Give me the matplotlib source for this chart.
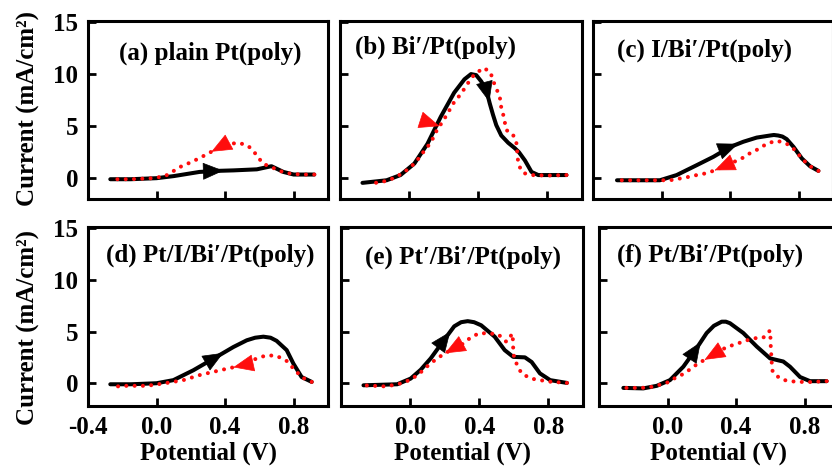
import matplotlib
matplotlib.use("Agg")
import matplotlib.pyplot as plt
from matplotlib.patches import FancyArrowPatch
import numpy as np

plt.rcParams['font.family'] = ['Liberation Serif', 'DejaVu Serif']
plt.rcParams['font.weight'] = 'bold'
plt.rcParams['axes.labelweight'] = 'bold'
plt.rcParams['font.size'] = 18

# ---- data: forward (black) and reverse (red) scans, potential in V, current in mA/cm2
a_fwd_x = [-0.27, -0.15, 0.0, 0.10, 0.25, 0.35, 0.45, 0.585, 0.67, 0.74, 0.80, 0.92]
a_fwd_y = [-0.1, -0.1, 0.0, 0.2, 0.6, 0.7, 0.75, 0.85, 1.15, 0.6, 0.35, 0.35]
a_rev_x = [0.92, 0.84, 0.75, 0.62, 0.58, 0.535, 0.48, 0.43, 0.36, 0.27, 0.21, 0.14, 0.09, 0.05, -0.02, -0.15, -0.27]
a_rev_y = [0.35, 0.35, 0.5, 1.4, 2.3, 3.1, 3.4, 3.3, 2.9, 2.1, 1.6, 1.1, 0.6, 0.2, 0.0, -0.1, -0.1]

b_fwd_x = [-0.27, -0.13, -0.05, 0.03, 0.106, 0.183, 0.26, 0.32, 0.358, 0.388, 0.417, 0.446, 0.466, 0.485, 0.504, 0.533, 0.573, 0.61, 0.635, 0.67, 0.708, 0.747, 0.91]
b_fwd_y = [-0.45, -0.2, 0.3, 1.4, 3.3, 5.9, 8.2, 9.5, 10.0, 9.9, 9.3, 8.5, 7.2, 6.1, 5.1, 4.1, 3.4, 2.9, 2.5, 1.7, 0.6, 0.3, 0.3]
b_rev_x = [0.91, 0.80, 0.708, 0.66, 0.635, 0.625, 0.625, 0.615, 0.59, 0.563, 0.553, 0.543, 0.53, 0.524, 0.504, 0.485, 0.47, 0.43, 0.374, 0.339, 0.30, 0.26, 0.232, 0.20, 0.16, 0.144, 0.115, 0.077, 0.037, -0.011, -0.066, -0.118, -0.17, -0.225]
b_rev_y = [0.3, 0.25, 0.3, 0.5, 1.2, 2.2, 3.0, 3.8, 4.4, 4.6, 5.4, 6.2, 7.0, 7.9, 8.6, 9.4, 10.2, 10.6, 9.9, 9.1, 8.1, 7.3, 6.5, 5.6, 4.6, 4.0, 3.2, 2.4, 1.5, 0.8, 0.2, -0.2, -0.4, -0.5]

c_fwd_x = [-0.26, -0.1, -0.01, 0.088, 0.205, 0.302, 0.40, 0.477, 0.555, 0.633, 0.655, 0.68, 0.705, 0.73, 0.77, 0.818, 0.866, 0.915]
c_fwd_y = [-0.2, -0.2, -0.2, 0.3, 1.25, 2.05, 3.0, 3.5, 3.9, 4.1, 4.15, 4.1, 4.0, 3.75, 3.0, 1.9, 1.15, 0.7]
c_rev_x = [0.915, 0.866, 0.82, 0.788, 0.76, 0.72, 0.668, 0.613, 0.565, 0.516, 0.468, 0.38, 0.302, 0.253, 0.205, 0.156, 0.108, 0.05, -0.1, -0.26]
c_rev_y = [0.7, 1.15, 1.85, 2.5, 3.0, 3.4, 3.6, 3.3, 2.8, 2.4, 1.9, 1.25, 0.7, 0.45, 0.3, 0.12, -0.03, -0.2, -0.2, -0.2]

d_fwd_x = [-0.27, -0.15, 0.0, 0.098, 0.214, 0.35, 0.448, 0.526, 0.575, 0.623, 0.665, 0.70, 0.759, 0.798, 0.846, 0.905]
d_fwd_y = [-0.1, -0.1, 0.0, 0.3, 1.25, 2.55, 3.5, 4.15, 4.4, 4.5, 4.4, 4.1, 3.2, 1.9, 0.6, 0.13]
d_rev_x = [0.905, 0.85, 0.808, 0.759, 0.70, 0.642, 0.584, 0.506, 0.409, 0.331, 0.254, 0.156, 0.05, -0.057, -0.174, -0.272]
d_rev_y = [0.13, 0.55, 1.25, 2.15, 2.65, 2.7, 2.4, 1.75, 1.4, 1.1, 0.8, 0.3, 0.0, -0.25, -0.25, -0.35]

e_fwd_x = [-0.27, -0.075, 0.003, 0.061, 0.119, 0.197, 0.255, 0.295, 0.333, 0.37, 0.411, 0.489, 0.547, 0.596, 0.664, 0.703, 0.751, 0.81, 0.907]
e_fwd_y = [-0.2, -0.1, 0.45, 1.3, 2.4, 4.2, 5.5, 5.9, 6.0, 5.9, 5.6, 4.5, 3.2, 2.55, 2.5, 2.05, 0.95, 0.3, 0.03]
e_rev_x = [0.907, 0.81, 0.751, 0.699, 0.644, 0.605, 0.596, 0.596, 0.592, 0.557, 0.508, 0.46, 0.40, 0.349, 0.304, 0.246, 0.197, 0.148, 0.10, 0.051, 0.003, -0.05, -0.104, -0.153, -0.27]
e_rev_y = [0.03, 0.15, 0.3, 0.45, 0.95, 2.25, 3.0, 3.8, 4.8, 4.0, 4.75, 4.8, 4.85, 4.4, 3.8, 3.3, 2.85, 2.3, 1.65, 0.9, 0.35, 0.0, -0.2, -0.3, -0.2]

f_fwd_x = [-0.258, -0.142, -0.063, 0.014, 0.092, 0.17, 0.228, 0.27, 0.316, 0.34, 0.364, 0.442, 0.52, 0.598, 0.675, 0.714, 0.773, 0.831, 0.928]
f_fwd_y = [-0.45, -0.5, -0.25, 0.3, 1.6, 3.4, 4.85, 5.55, 5.95, 5.95, 5.8, 4.85, 3.55, 2.4, 2.1, 1.6, 0.6, 0.2, 0.2]
f_rev_x = [0.928, 0.812, 0.704, 0.656, 0.613, 0.608, 0.605, 0.602, 0.60, 0.598, 0.558, 0.51, 0.452, 0.403, 0.345, 0.277, 0.209, 0.15, 0.10, 0.053, 0.004, -0.045, -0.093, -0.15, -0.2, -0.258]
f_rev_y = [0.2, 0.1, 0.2, 0.45, 1.1, 1.9, 2.7, 3.55, 4.45, 5.1, 4.4, 4.35, 4.1, 3.8, 3.5, 2.85, 2.2, 1.6, 0.95, 0.6, 0.1, -0.15, -0.35, -0.45, -0.45, -0.45]

titles = ["(a) plain Pt(poly)", "(b) Bi\u2032/Pt(poly)", "(c) I/Bi\u2032/Pt(poly)",
          "(d) Pt/I/Bi\u2032/Pt(poly)", "(e) Pt\u2032/Bi\u2032/Pt(poly)", "(f) Pt/Bi\u2032/Pt(poly)"]
x_ticks = [-0.4, 0.0, 0.4, 0.8]
x_tick_labels = ["-0.4", "0.0", "0.4", "0.8"]
y_ticks = [0, 5, 10, 15]
y_tick_labels = ["0", "5", "10", "15"]
x_label = "Potential (V)"
y_label = "Current (mA/cm\u00b2)"

panels = [
    (a_fwd_x, a_fwd_y, a_rev_x, a_rev_y),
    (b_fwd_x, b_fwd_y, b_rev_x, b_rev_y),
    (c_fwd_x, c_fwd_y, c_rev_x, c_rev_y),
    (d_fwd_x, d_fwd_y, d_rev_x, d_rev_y),
    (e_fwd_x, e_fwd_y, e_rev_x, e_rev_y),
    (f_fwd_x, f_fwd_y, f_rev_x, f_rev_y),
]

# arrow placement: (segment index, fraction along segment, optional heading in degrees)
fwd_arrows = [(5, 0.4, None), (11, 0.9, None), (6, 0.6, None), (5, 0.4, None), (5, 0.6, None), (5, 0.4, None)]
rev_arrows = [(8, 0.45, None), (23, 0.6, -18), (11, 0.9, None), (7, 0.6, None), (15, 0.9, None), (15, 0.9, None)]

# axes boxes in figure fractions [left, bottom, width, height]
W, H = 832, 469
boxes = [
    [88 / W, 1 - 199 / H, 240 / W, 178 / H],
    [340 / W, 1 - 199 / H, 242 / W, 178 / H],
    [593 / W, 1 - 199 / H, 240 / W, 178 / H],
    [88 / W, 1 - 406 / H, 240 / W, 179 / H],
    [341 / W, 1 - 406 / H, 242 / W, 179 / H],
    [599 / W, 1 - 406 / H, 240 / W, 179 / H],
]
ylims = [(-2.0, 15.1)] * 3 + [(-2.2, 15.1)] * 3
title_pos = [(0.508, 0.82, 'center'), (0.062, 0.855, 'left'), (0.10, 0.837, 'left'),
             (0.075, 0.844, 'left'), (0.099, 0.832, 'left'), (0.075, 0.844, 'left')]

RED = '#ff0d0d'

fig = plt.figure(figsize=(W / 100, H / 100), dpi=100)


def add_arrow(ax, xs, ys, seg, t, heading, color):
    x0, y0 = xs[seg], ys[seg]
    x1, y1 = xs[seg + 1], ys[seg + 1]
    hx, hy = x0 + t * (x1 - x0), y0 + t * (y1 - y0)
    p0 = ax.transData.transform((x0, y0))
    p1 = ax.transData.transform((x1, y1))
    if heading is None:
        d = p1 - p0
        d = d / np.hypot(*d)
    else:
        a = np.deg2rad(heading)
        d = np.array([np.cos(a), np.sin(a)])
    head = ax.transData.transform((hx, hy))
    tail = head - d * 1.0
    tail_data = ax.transData.inverted().transform(tail)
    arr = FancyArrowPatch(posA=tuple(tail_data), posB=(hx, hy),
                          arrowstyle='-|>,head_length=1.2,head_width=0.5',
                          mutation_scale=11.5, color=color, lw=0.5,
                          shrinkA=0, shrinkB=0, zorder=5)
    ax.add_patch(arr)


for i, (box, data) in enumerate(zip(boxes, panels)):
    ax = fig.add_axes(box)
    fx, fy, rx, ry = data
    ax.set_xlim(-0.4, 1.0)
    ax.set_ylim(*ylims[i])
    ax.plot(fx, fy, color='black', lw=2.9, solid_capstyle='round', solid_joinstyle='round', zorder=3)
    ax.plot(rx, ry, color=RED, lw=2.9, linestyle=(0, (0.01, 2.05)),
            dash_capstyle='round', zorder=4)
    sg, tt, hd = fwd_arrows[i]
    add_arrow(ax, fx, fy, sg, tt, hd, 'black')
    sg, tt, hd = rev_arrows[i]
    add_arrow(ax, rx, ry, sg, tt, hd, RED)

    for s in ax.spines.values():
        s.set_linewidth(2.2)
    ax.tick_params(direction='in', length=5.5, width=2.0, top=False, right=False, pad=7)
    ax.set_xticks(x_ticks)
    ax.set_yticks(y_ticks)
    row, col = divmod(i, 3)
    if row == 1:
        labels = list(x_tick_labels)
        if col > 0:
            labels[0] = ""
        ax.set_xticklabels(labels)
        ax.set_xlabel(x_label, labelpad=2, fontweight='bold')
    else:
        ax.set_xticklabels([])
    if col == 0:
        ax.set_yticklabels(y_tick_labels)
    else:
        ax.set_yticklabels([])
    tx, ty, ha = title_pos[i]
    ax.text(tx, ty, titles[i], transform=ax.transAxes, ha=ha, va='center')

fig.text(28 / W, 1 - 108 / H, y_label, rotation=90, ha='center', va='center')
fig.text(28 / W, 1 - 327 / H, y_label, rotation=90, ha='center', va='center')

fig.savefig("out.png", dpi=100)
